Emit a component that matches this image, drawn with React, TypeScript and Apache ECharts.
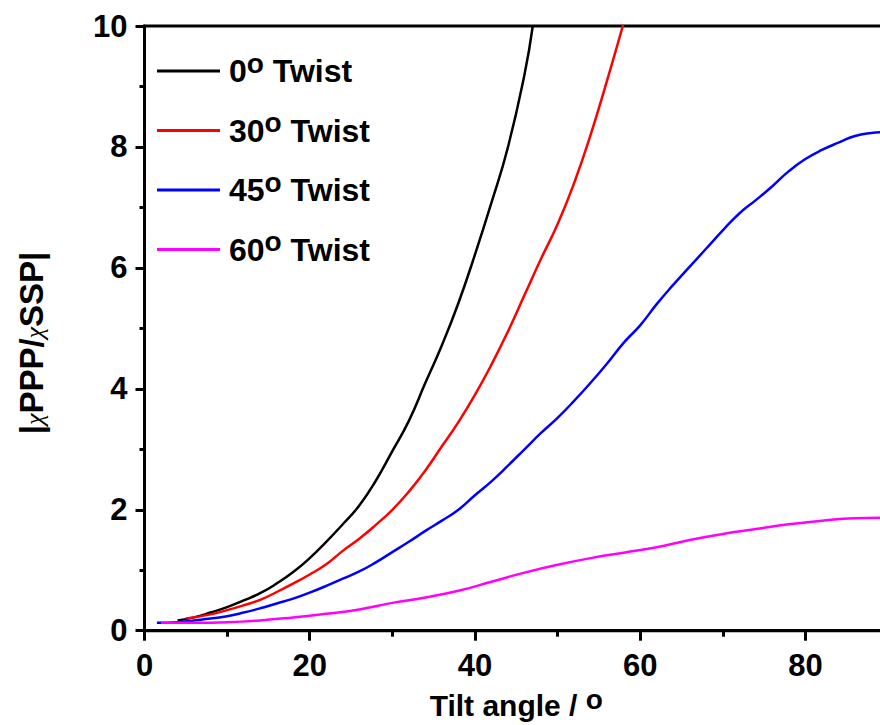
import React, { useEffect, useRef } from "react";
import * as echarts from "echarts";

// Tilt angle (deg) and |chi_PPP/chi_SSP| ratio for each twist angle
const twistLabels = ["0", "30", "45", "60"];
const seriesColors = ["#000000", "#ff0000", "#0000ff", "#ff00ff"];

const tilt0 = [4, 6, 8, 10, 12, 14, 16, 18, 20, 22, 24, 26, 28, 30, 32, 34, 36, 38, 40, 42, 44, 46, 47];
const ratio0 = [0.17, 0.22, 0.3, 0.39, 0.5, 0.62, 0.78, 0.97, 1.2, 1.47, 1.76, 2.07, 2.48, 2.97, 3.47, 4.1, 4.72, 5.42, 6.22, 7.08, 8.0, 9.2, 10.0];

const tilt30 = [5, 8, 10, 12, 14, 16, 18, 20, 22, 24, 26, 28, 30, 32, 34, 36, 38, 40, 42, 44, 46, 48, 50, 52, 54, 56, 58];
const ratio30 = [0.2, 0.27, 0.34, 0.42, 0.51, 0.64, 0.78, 0.93, 1.1, 1.32, 1.52, 1.75, 2.0, 2.3, 2.65, 3.05, 3.45, 3.9, 4.4, 4.95, 5.55, 6.15, 6.72, 7.4, 8.2, 9.1, 10.05];

const tilt45 = [1.5, 4, 6, 8, 10, 12, 14, 16, 18, 20, 22, 24, 26, 28, 30, 32, 34, 36, 38, 40, 42, 44, 46, 48, 50, 52, 54, 56, 58, 60, 62, 64, 66, 68, 70, 72, 74, 76, 78, 80, 82, 84, 86, 88, 90];
const ratio45 = [0.13, 0.14, 0.17, 0.2, 0.24, 0.3, 0.37, 0.45, 0.53, 0.63, 0.74, 0.86, 0.98, 1.13, 1.3, 1.47, 1.65, 1.82, 2.0, 2.24, 2.47, 2.73, 3.0, 3.27, 3.52, 3.8, 4.1, 4.42, 4.76, 5.05, 5.4, 5.72, 6.02, 6.32, 6.62, 6.9, 7.12, 7.35, 7.6, 7.8, 7.95, 8.07, 8.18, 8.23, 8.25];

const tilt60 = [2, 6, 10, 14, 18, 22, 26, 30, 34, 38, 42, 46, 50, 54, 58, 62, 66, 70, 74, 78, 82, 86, 90];
const ratio60 = [0.13, 0.13, 0.14, 0.17, 0.22, 0.28, 0.35, 0.46, 0.55, 0.66, 0.81, 0.96, 1.09, 1.2, 1.29, 1.38, 1.5, 1.6, 1.68, 1.76, 1.82, 1.86, 1.87];

const tilts = [tilt0, tilt30, tilt45, tilt60];
const ratios = [ratio0, ratio30, ratio45, ratio60];

const FONT = "'Liberation Sans', Arial, sans-serif";

export default function App() {
  const ref = useRef<HTMLDivElement>(null);
  useEffect(() => {
    if (!ref.current) return;
    const chart = echarts.init(ref.current, null, { renderer: "svg" });
    const series = twistLabels.map((name, i) => ({
      name,
      type: "line",
      symbol: "none",
      smooth: true,
      data: tilts[i].map((t, j) => [t, ratios[i][j]]),
      lineStyle: { color: seriesColors[i], width: 2.5 },
      itemStyle: { color: seriesColors[i] },
    }));
    chart.setOption({
      animation: false,
      backgroundColor: "#ffffff",
      grid: {
        left: 144.5,
        right: -8,
        top: 26,
        bottom: 94.3,
        show: true,
        borderColor: "#000",
        borderWidth: 3,
        containLabel: false,
        outerBoundsMode: "none",
      },
      legend: {
        orient: "vertical",
        left: 152,
        top: 44,
        itemWidth: 63,
        itemHeight: 3,
        itemGap: 15.5,
        icon: "rect",
        data: twistLabels.map((n) => ({ name: n, icon: "rect" })),
        formatter: (n: string) => `{n|${n}}{sup|o} Twist`,
        textStyle: {
          fontFamily: FONT,
          fontSize: 32,
          fontWeight: "bold",
          color: "#000",
          lineHeight: 44,
          rich: {
            n: { fontFamily: FONT, fontSize: 32, fontWeight: "bold", color: "#000", lineHeight: 44, padding: [0, 0, 0, 4] },
            sup: { fontFamily: FONT, fontSize: 28, fontWeight: "bold", color: "#000", verticalAlign: "top", lineHeight: 16 },
          },
        },
      },
      xAxis: {
        type: "value",
        min: 0,
        max: 90,
        interval: 20,
        name: "Tilt angle / {sup|o}",
        nameLocation: "middle",
        nameGap: 50,
        nameTextStyle: {
          fontFamily: FONT,
          fontSize: 30,
          fontWeight: "bold",
          color: "#000",
          lineHeight: 40,
          verticalAlign: "top",
          rich: {
            sup: { fontFamily: FONT, fontSize: 28, fontWeight: "bold", color: "#000", verticalAlign: "top", lineHeight: 12 },
          },
        },
        axisLine: { show: true, lineStyle: { color: "#000", width: 3 } },
        axisTick: { show: true, inside: false, length: 10, lineStyle: { color: "#000", width: 3 } },
        minorTick: { show: true, splitNumber: 2, length: 6, lineStyle: { color: "#000", width: 3 } },
        splitLine: { show: false },
        axisLabel: { fontFamily: FONT, fontSize: 31, fontWeight: "bold", color: "#000", margin: 19, showMaxLabel: false },
      },
      yAxis: {
        type: "value",
        min: 0,
        max: 10,
        interval: 2,
        axisLine: { show: true, lineStyle: { color: "#000", width: 3 } },
        axisTick: { show: true, inside: false, length: 9, lineStyle: { color: "#000", width: 3 } },
        minorTick: { show: true, splitNumber: 2, length: 5, lineStyle: { color: "#000", width: 3 } },
        splitLine: { show: false },
        axisLabel: { fontFamily: FONT, fontSize: 31, fontWeight: "bold", color: "#000", margin: 17 },
      },
      graphic: [
        {
          type: "text",
          x: 31,
          y: 343,
          rotation: Math.PI / 2,
          style: {
            text: "{b||}{chi|χ}{b|PPP}{b|/}{chi|χ}{b|SSP}{b||}",
            align: "center",
            verticalAlign: "middle",
            rich: {
              b: { fontFamily: FONT, fontSize: 33, fontWeight: "bold", fill: "#000", color: "#000" },
              chi: { fontFamily: "'Liberation Serif', serif", fontSize: 26, fontStyle: "italic", fill: "#000", color: "#000", verticalAlign: "bottom" },
            },
          },
        },
      ],
      series,
    });
    return () => chart.dispose();
  }, []);
  return <div ref={ref} style={{ width: 880, height: 725, position: "absolute", left: 0, top: 0 }} />;
}
